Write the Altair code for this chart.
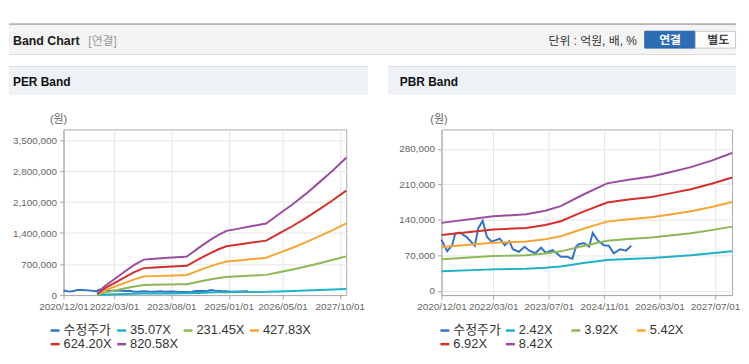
import altair as alt
import pandas as pd

FONT = "Liberation Sans, Noto Sans CJK KR, sans-serif"

# ---- adjusted stock price (수정주가), shared by both panels ----
price_dates = ["2020-12-01", "2021-01-20", "2021-03-05", "2021-04-01", "2021-05-12",
               "2021-07-10", "2021-09-20", "2021-10-20", "2021-11-28", "2022-01-05",
               "2022-02-15", "2022-04-28", "2022-06-10", "2022-07-20", "2022-08-20",
               "2022-10-12", "2022-12-01", "2023-01-12", "2023-03-05", "2023-04-25",
               "2023-06-05", "2023-08-05", "2023-09-15", "2023-10-15", "2023-12-12",
               "2024-01-25", "2024-02-25", "2024-03-22", "2024-05-05", "2024-06-20",
               "2024-07-22", "2024-09-01", "2024-10-28", "2024-12-10", "2025-01-22",
               "2025-03-20", "2025-05-10", "2025-06-25"]
price_values = [101000, 78000, 90000, 113000, 115000, 106000, 89000, 123000, 138000, 106000,
                97000, 103000, 90000, 98000, 82000, 77000, 87000, 79000, 74000, 85000,
                75000, 80000, 73000, 67000, 67000, 63000, 87000, 92000, 94000, 87000,
                114000, 100000, 90000, 89000, 74000, 82000, 79000, 89000]

# ---- PER band ----
per_dates = ["2021-10-01", "2021-12-01", "2022-03-01", "2022-06-01", "2022-09-01",
             "2022-11-25", "2023-03-01", "2023-07-01", "2023-11-01", "2023-12-20",
             "2024-04-01", "2024-07-15", "2024-10-01", "2024-12-12", "2025-04-01",
             "2025-08-01", "2025-12-05", "2026-04-01", "2026-08-01", "2026-12-01",
             "2027-04-01", "2027-08-01", "2027-11-28"]
per_names = ["35.07X", "231.45X", "427.83X", "624.20X", "820.58X"]
per_035 = [1400, 8600, 15800, 23400, 30600, 36000, 36900, 37800, 38700, 39200, 47700, 55800,
           61200, 65300, 67500, 70200, 72700, 82400, 92300, 103100, 114800, 126900, 139500]
per_231 = [8500, 53600, 98700, 146700, 191800, 225700, 231300, 237000, 242600, 245400, 299000,
           349800, 383700, 409000, 423200, 440100, 455600, 516200, 578300, 646000, 719400,
           795500, 874500]
per_427 = [15600, 99100, 182500, 271100, 354600, 417100, 427500, 438000, 448400, 453600, 552700,
           646500, 709100, 756000, 782100, 813400, 842100, 954200, 1068900, 1194000, 1329600,
           1470300, 1616300]
per_624 = [22800, 144500, 266200, 395600, 517300, 608600, 623800, 639000, 654200, 661800, 806300,
           943300, 1034600, 1103000, 1141100, 1186700, 1228500, 1392100, 1559400, 1742000,
           1939800, 2145200, 2358200]
per_820 = [30000, 190000, 350000, 520000, 680000, 800000, 820000, 840000, 860000, 870000,
           1060000, 1240000, 1360000, 1450000, 1500000, 1560000, 1615000, 1830000, 2050000,
           2290000, 2550000, 2820000, 3100000]
per_y_ticks = [0, 700000, 1400000, 2100000, 2800000, 3500000]

# ---- PBR band ----
pbr_dates = ["2020-12-01", "2022-03-01", "2022-12-15", "2023-06-01", "2023-10-15",
             "2024-05-01", "2024-11-25", "2025-06-01", "2025-12-20", "2026-06-01",
             "2026-12-01", "2027-06-01", "2027-11-28"]
pbr_names = ["2.42X", "3.92X", "5.42X", "6.92X", "8.42X"]
pbr_242 = [38500, 42200, 43400, 45400, 48000, 54600, 60900, 62900, 64800, 67300, 70100, 73900, 78200]
pbr_392 = [62400, 68400, 70300, 73600, 77800, 88500, 98700, 102000, 105000, 109000, 113600, 119700, 126600]
pbr_542 = [86300, 94600, 97200, 101700, 107500, 122300, 136500, 141000, 145200, 150600, 157100, 165400, 175100]
pbr_692 = [110100, 120800, 124100, 129900, 137300, 156200, 174200, 180000, 185300, 192300, 200500, 211200, 223600]
pbr_842 = [134000, 147000, 151000, 158000, 167000, 190000, 212000, 219000, 225500, 234000, 244000, 257000, 272000]
pbr_y_ticks = [0, 70000, 140000, 210000, 280000]

colors = ["#3572c6", "#1fb1c7", "#8cb855", "#f7a535", "#d3302b", "#9b4ea0"]


def dt(y, m, d):
    return alt.DateTime(year=y, month=m, date=d, utc=True)


per_x_ticks = [dt(2020, 12, 1), dt(2022, 3, 1), dt(2023, 8, 1), dt(2025, 1, 1), dt(2026, 5, 1), dt(2027, 10, 1)]
pbr_x_ticks = [dt(2020, 12, 1), dt(2022, 3, 1), dt(2023, 7, 1), dt(2024, 11, 1), dt(2026, 3, 1), dt(2027, 7, 1)]


def build_df(band_dates, band_lists, names):
    rows = [{"date": d, "value": v, "series": "수정주가"} for d, v in zip(price_dates, price_values)]
    for name, vals in zip(names, band_lists):
        rows += [{"date": d, "value": v, "series": name} for d, v in zip(band_dates, vals)]
    return pd.DataFrame(rows)


one = pd.DataFrame({"k": [0]})


def rect(x, x2, y, y2, fill, stroke=None):
    kw = {"fill": fill}
    if stroke:
        kw["stroke"] = stroke
        kw["strokeWidth"] = 1
    return alt.Chart(one).mark_rect(**kw).encode(
        x=alt.value(x), x2=alt.value(x2), y=alt.value(y), y2=alt.value(y2))


def text(s, x, y, size=12, color="#333333", weight="normal", align="left"):
    return alt.Chart(one).mark_text(text=s, fontSize=size, color=color, fontWeight=weight,
                                    align=align, baseline="middle", font=FONT).encode(
        x=alt.value(x), y=alt.value(y))


def panel(df, names, y_dom, y_ticks, x_ticks, width, title_x, legend_x, decos):
    domain = ["수정주가"] + names
    lines = alt.Chart(df).mark_line(strokeWidth=2).encode(
        x=alt.X("date:T", title="",
                scale=alt.Scale(type="utc", domain=[dt(2020, 12, 1), dt(2027, 11, 28)], nice=False),
                axis=alt.Axis(values=x_ticks, format="%Y/%m/%d", labelOverlap=False,
                              labelFlush=False, labelFontSize=10, labelPadding=3)),
        y=alt.Y("value:Q",
                scale=alt.Scale(domain=y_dom, nice=False, zero=False),
                axis=alt.Axis(values=y_ticks, format=",d", title="(원)", titleAngle=0,
                              titleX=title_x, titleY=-10, titleAlign="center",
                              titleBaseline="middle")),
        color=alt.Color("series:N", sort=domain,
                        scale=alt.Scale(domain=domain, range=colors),
                        legend=alt.Legend(orient="none", legendX=legend_x, legendY=196,
                                          direction="horizontal", columns=4, gridAlign="all",
                                          symbolType="stroke", symbolSize=81,
                                          symbolStrokeWidth=2.5, labelFontSize=13,
                                          labelColor="#333333", labelFont=FONT,
                                          labelOffset=2, columnPadding=0, rowPadding=0,
                                          padding=0, title=None)),
    )
    return alt.layer(*decos, lines).properties(width=width, height=167)


per_df = build_df(per_dates, [per_035, per_231, per_427, per_624, per_820], per_names)
pbr_df = build_df(pbr_dates, [pbr_242, pbr_392, pbr_542, pbr_692, pbr_842], pbr_names)

per_decos = [
    rect(-55, 678, -107, -105, "#b5b5b5"),
    rect(-55, 678, -105, -76, "#f4f4f4"),
    rect(-55, 678, -76, -75, "#dcdcdc"),
    text("Band Chart", -51, -89, size=12.5, color="#1a1a1a", weight="bold"),
    text("[연결]", 25, -89, size=12, color="#9a9a9a"),
    text("단위 : 억원, 배, %", 578, -89, size=12, color="#333333", align="right"),
    rect(586, 637, -99, -82, "#2e6db4", "#27609f"),
    text("연결", 611.5, -90.5, size=12, color="#ffffff", weight="bold", align="center"),
    rect(637, 677.5, -99, -82, "#ffffff", "#c8c8c8"),
    text("별도", 660, -90.5, size=12, color="#444444", weight="bold", align="center"),
    rect(-55, 307, -64, -35, "#eef1f6"),
    rect(-55, 307, -64, -63, "#d9dde3"),
    text("PER Band", -51, -48, size=12, color="#111111", weight="bold"),
]
pbr_decos = [
    rect(-54, 297, -64, -35, "#eef1f6"),
    rect(-54, 297, -64, -63, "#d9dde3"),
    text("PBR Band", -42, -48, size=12, color="#111111", weight="bold"),
]

per_chart = panel(per_df, per_names, [0, 3740000], per_y_ticks, per_x_ticks, 285, -5.5, -15, per_decos)
pbr_chart = panel(pbr_df, pbr_names, [-8500, 318500], pbr_y_ticks, pbr_x_ticks, 293, -3, -3, pbr_decos)

chart = alt.hconcat(per_chart, pbr_chart, spacing=96, bounds="flush").resolve_scale(
    color="independent", x="independent", y="independent"
).properties(
    padding={"left": 0, "top": 13, "right": 0, "bottom": 0}
).configure(font=FONT).configure_view(stroke="#aaaaaa").configure_axis(
    domainColor="#aaaaaa", tickColor="#aaaaaa", tickSize=4, gridColor="#e6e6e6",
    labelColor="#666666", labelFontSize=10, labelFont=FONT, titleFont=FONT,
    titleFontWeight="normal", titleFontSize=11, titleColor="#666666", labelPadding=3
)

chart.save("out.html", embed_options={"renderer": "svg", "actions": False})
